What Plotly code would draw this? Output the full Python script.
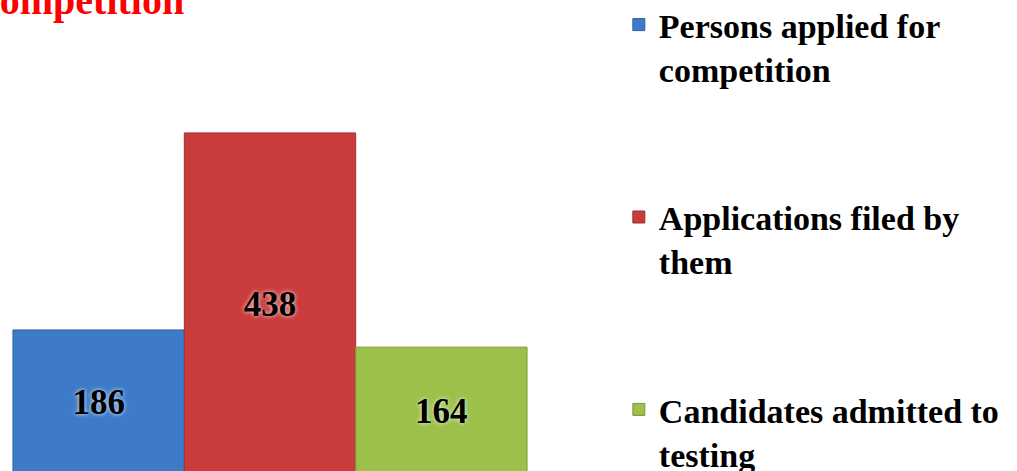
import plotly.graph_objects as go

category = [""]
series_names = [
    "Persons applied for<br>competition",
    "Applications filed by<br>them",
    "Candidates admitted to<br>testing",
]
series_values = [186, 438, 164]
series_colors = ["#3D7BC8", "#C93C3B", "#9CC04A"]
series_lines = ["#2F5F9E", "#9E2E2E", "#7A9838"]
title_text = "competition"

fig = go.Figure()
for i, (name, val, col, lc) in enumerate(zip(series_names, series_values, series_colors, series_lines)):
    fig.add_trace(go.Bar(
        x=category, y=[val], name=name,
        legendgroup=f"g{i}",
        marker=dict(color=col, line=dict(color=lc, width=1)),
        text=[str(val)], textposition="inside", insidetextanchor="middle",
        textfont=dict(family="Liberation Serif", size=35, color="black", weight="bold",
                      shadow="0px 0px 4px rgba(255,255,255,0.9)"),
        constraintext="none",
    ))

fig.update_layout(
    width=1017, height=471,
    margin=dict(l=0, r=477, t=0, b=0, autoexpand=False),
    paper_bgcolor="white", plot_bgcolor="white",
    barmode="group", bargap=0.048, bargroupgap=0,
    showlegend=True,
    legend=dict(
        x=1.146, xanchor="left", y=1.0085, yanchor="top",
        font=dict(family="Liberation Serif", size=34, color="black", weight="bold"),
        valign="top", traceorder="grouped", tracegroupgap=101,
        bgcolor="rgba(0,0,0,0)", maxheight=700,
    ),
    xaxis=dict(visible=False, range=[-0.5, 0.5]),
    yaxis=dict(visible=False, range=[5.6, 608]),
    uniformtext=dict(mode=False),
)

fig.add_annotation(
    text=title_text, xref="paper", yref="paper",
    x=186 / 540, y=1 - 25 / 471, xanchor="right", yanchor="bottom",
    showarrow=False,
    font=dict(family="Liberation Serif", size=40, color="#FF0000", weight="bold"),
)

fig.write_html(
    "out.html",
    config={"displayModeBar": False},
    post_script="document.body.style.margin='0';document.body.style.overflow='hidden';",
)
